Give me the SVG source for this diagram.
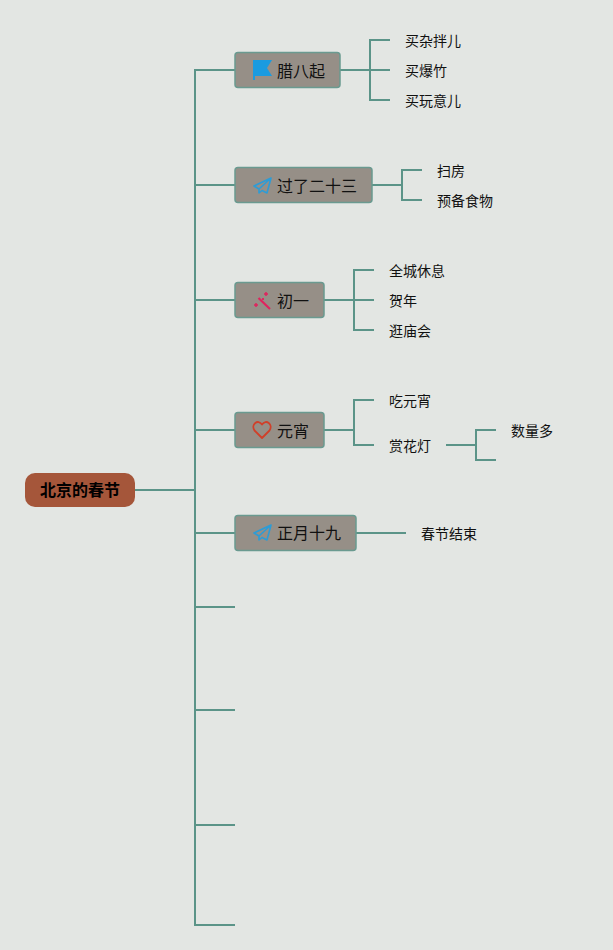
<svg xmlns="http://www.w3.org/2000/svg" width="613" height="950" viewBox="0 0 613 950">
<style>
text{font-family:"Liberation Sans","Noto Sans CJK SC",sans-serif;fill:#111;dominant-baseline:central}
.t{font-size:14px}
.m{font-size:16px}
.r{font-size:16px;font-weight:700;fill:#000}
.n{fill:#968f87;stroke:#6a9a90;stroke-width:1.5}
#connectors path{fill:none;stroke:#5b9488;stroke-width:2}
</style>
<rect width="613" height="950" fill="#e3e6e3"/>
<g id="connectors">
<path d="M135 490H195"/>
<path d="M235 70H195V925H235"/>
<path d="M195 185H235M195 300H235M195 430H235M195 533H235M195 607H235M195 710H235M195 825H235"/>
<path d="M340 70H390M390 40H370V100H390"/>
<path d="M372 185H402M422 170H402V200H422"/>
<path d="M324 300H374M374 270H354V330H374"/>
<path d="M324 430H354M374 400H354V445H374"/>
<path d="M446 445H476M496 430H476V460H496"/>
<path d="M356 533H406"/>
</g>
<g id="root"><rect x="25" y="473" width="110" height="34" rx="10" fill="#a5563a"/><text class="r" x="80" y="490" text-anchor="middle">北京的春节</text></g>
<g id="n1"><rect class="n" x="235" y="52.500" width="105" height="35" rx="3"/><path d="M253 60H272L267 68L272 76H255V80H253Z" fill="#1a9be0"/><text class="m" x="277" y="71">腊八起</text></g>
<g id="n2"><rect class="n" x="235" y="167.500" width="137" height="35" rx="3"/><path d="M271 178L254 186L259 189ZM271 178L259 189V193L262 190.500L267 193Z" fill="none" stroke="#2d9cd6" stroke-width="1.600" stroke-linejoin="round"/><text class="m" x="277" y="186">过了二十三</text></g>
<g id="n3"><rect class="n" x="235" y="282.500" width="89" height="35" rx="3"/><path d="M258.500 298L270 309" stroke="#e0245e" stroke-width="2.200"/><path d="M266 292v4M264 294h4M256 303v4M254 305h4M263 298v2M262 299h2" stroke="#e0245e" stroke-width="1.500"/><text class="m" x="277" y="301">初一</text></g>
<g id="n4"><rect class="n" x="235" y="412.500" width="89" height="35" rx="3"/><path d="M262 438L254.500 430.500C250.500 424.500 258 418.500 262 424.500C266 418.500 273.500 424.500 269.500 430.500Z" fill="none" stroke="#d0402a" stroke-width="1.800" stroke-linejoin="round"/><text class="m" x="277" y="431">元宵</text></g>
<g id="n5"><rect class="n" x="235" y="515.500" width="121" height="35" rx="3"/><path d="M271 525L254 533L259 536ZM271 525L259 536V540L262 537.500L267 540Z" fill="none" stroke="#2d9cd6" stroke-width="1.600" stroke-linejoin="round"/><text class="m" x="277" y="533">正月十九</text></g>
<g id="l1"><text class="t" x="405" y="41">买杂拌儿</text></g>
<g id="l2"><text class="t" x="405" y="71">买爆竹</text></g>
<g id="l3"><text class="t" x="405" y="101">买玩意儿</text></g>
<g id="l4"><text class="t" x="437" y="171">扫房</text></g>
<g id="l5"><text class="t" x="437" y="201">预备食物</text></g>
<g id="l6"><text class="t" x="389" y="271">全城休息</text></g>
<g id="l7"><text class="t" x="389" y="301">贺年</text></g>
<g id="l8"><text class="t" x="389" y="331">逛庙会</text></g>
<g id="l9"><text class="t" x="389" y="401">吃元宵</text></g>
<g id="l10"><text class="t" x="389" y="446">赏花灯</text></g>
<g id="l11"><text class="t" x="511" y="431">数量多</text></g>
<g id="l12"><text class="t" x="421" y="534">春节结束</text></g>
</svg>
